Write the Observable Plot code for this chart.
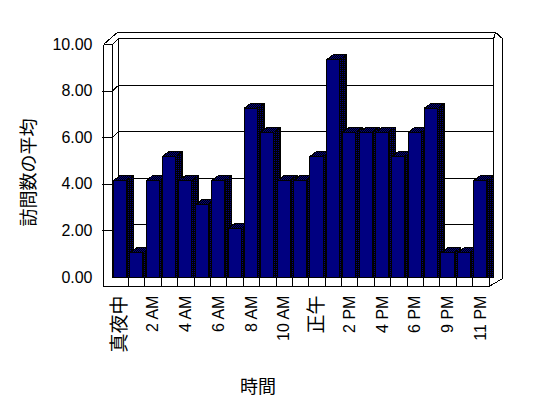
<!DOCTYPE html>
<html><head><meta charset="utf-8">
<script src="https://cdn.jsdelivr.net/npm/d3@7"></script>
<script src="https://cdn.jsdelivr.net/npm/@observablehq/plot@0.6"></script>
<style>
html,body{margin:0;padding:0;background:#fff;}
</style></head><body><div id="chart"></div>
<script>
// ---- data ----
const categories = ["真夜中","1 AM","2 AM","3 AM","4 AM","5 AM","6 AM","7 AM","8 AM","9 AM","10 AM","11 AM","正午","1 PM","2 PM","3 PM","4 PM","5 PM","6 PM","7 PM","9 PM","10 PM","11 PM"];
const visits = [4,1,4,5,4,3,4,2,7,6,4,4,5,9,6,6,6,5,6,7,1,1,4];
const yTicks = [0,2,4,6,8,10];
const yTickLabels = ["0.00","2.00","4.00","6.00","8.00","10.00"];
const yTitle = "訪問数の平均";
const xTitle = "時間";

// ---- 3D geometry (in scale units) ----
const N = categories.length;
const YMAX = 10;
const SLAB = -0.53, FLOOR = -0.39;
const WDX = 0.40, WDY = 0.26, WRX = 0.29;
const ODX = 0.81, ODY = 0.34, TOPY = YMAX + 0.52;
const BDX = 0.42, BDY = 0.215, BAR0 = 0.1, BAR1 = 0.9, K = 1.036;
const isCJK = s => /[\u3000-\u9fff]/.test(s);

const seg = (x1,y1,x2,y2) => ({x1,y1,x2,y2});
const frame = [
  seg(SLAB, FLOOR, SLAB, YMAX),
  seg(SLAB, YMAX, 0, YMAX),
  seg(0, 0, 0, YMAX),
  seg(SLAB, YMAX, SLAB + 0.85, TOPY),
  seg(0, YMAX, WDX, YMAX + WDY),
  seg(SLAB + 0.85, TOPY, N + 0.4, TOPY),
  seg(N + 0.4, TOPY, N + ODX, YMAX + 0.26),
  seg(N + ODX, YMAX + 0.26, N + ODX, FLOOR + ODY),
  seg(N, FLOOR, N + ODX, FLOOR + ODY),
  seg(SLAB, FLOOR, N, FLOOR),
  seg(0, 0, N, 0),
  seg(N, 0, N + WRX, 0.16),
  seg(WDX, WDY, WDX, YMAX + WDY),
  seg(WDX, YMAX + WDY, N + WRX, YMAX + WDY),
  seg(N + WRX, 0.16, N + WRX, YMAX + WDY),
  seg(N + WRX, YMAX + WDY, N + 0.4, TOPY),
  ...d3.range(1, N + 1).map(i => seg(i, FLOOR, i, 0)),
  ...yTicks.filter(v => v < YMAX).map(v => seg(WDX, v + WDY, N + WRX, v + WDY)),
  ...yTicks.filter(v => v < YMAX).map(v => seg(0, v, WDX, v + WDY)),
  ...yTicks.filter(v => v > 0 && v < YMAX).map(v => seg(SLAB - 0.12, v, 0, v))
];

const bars = visits.map((v, i) => ({i, v, h: v * K}));
const sides = bars.flatMap(d => [
  {z: d.i, x: d.i + BAR1, y1: 0, y2: d.h},
  {z: d.i, x: d.i + BAR1 + BDX, y1: 0, y2: d.h + BDY}
]);
const tops = bars.flatMap(d => [
  {z: d.i, y: d.h, x1: d.i + BAR0, x2: d.i + BAR1},
  {z: d.i, y: d.h + BDY, x1: d.i + BAR0 + BDX, x2: d.i + BAR1 + BDX}
]);
const labelIdx = d3.range(0, N, 2);

const FONT = "'Liberation Sans', Arial, 'Noto Sans CJK JP', sans-serif";
const W = 548, H = 398, ML = 111.7, MR = 59.5, MT = 44, MB = 121;

const chart = Plot.plot({
  width: W, height: H,
  marginLeft: ML, marginRight: MR, marginTop: MT, marginBottom: MB,
  x: {domain: [0, N], axis: null},
  y: {domain: [0, YMAX], axis: null},
  style: {fontFamily: FONT, background: "white", color: "black", overflow: "visible"},
  marks: [
    Plot.link(frame, {x1: "x1", y1: "y1", x2: "x2", y2: "y2", stroke: "black", strokeWidth: 1}),
    Plot.areaY(sides, {x: "x", y1: "y1", y2: "y2", z: "z", fill: "url(#sidePat)", stroke: "black", strokeWidth: 1}),
    Plot.areaX(tops, {y: "y", x1: "x1", x2: "x2", z: "z", fill: "url(#topPat)", stroke: "black", strokeWidth: 1}),
    Plot.rect(bars, {x1: d => d.i + BAR0, x2: d => d.i + BAR1, y1: 0, y2: "h", fill: "#000080", stroke: "black", strokeWidth: 1}),
    Plot.text(yTicks, {x: SLAB, y: d => d, text: (d, i) => yTickLabels[i], textAnchor: "end", dx: -11, fontSize: 16, fill: "black"}),
    Plot.text(labelIdx, {x: i => i + 0.5, y: FLOOR, text: i => categories[i], rotate: -90, textAnchor: "end", lineAnchor: "middle", dy: 9, fontSize: i => isCJK(categories[i]) ? 19 : 16, fill: "black"}),
    Plot.text([yTitle], {frameAnchor: "top-left", text: d => d, rotate: -90, textAnchor: "middle", lineAnchor: "middle", dx: 29 - ML, dy: 172 - MT, fontSize: 18, fill: "black"}),
    Plot.text([xTitle], {frameAnchor: "bottom", text: d => d, textAnchor: "middle", lineAnchor: "middle", dx: 257.5 - (ML + (W - ML - MR) / 2), dy: 387 - (H - MB), fontSize: 18, fill: "black"})
  ]
});

const svg = d3.select(chart);
svg.style("shape-rendering", "crispEdges");
const defs = svg.insert("defs", ":first-child");
const p1 = defs.append("pattern").attr("id", "topPat").attr("width", 2).attr("height", 2).attr("patternUnits", "userSpaceOnUse");
p1.append("rect").attr("width", 2).attr("height", 2).attr("fill", "#000080");
p1.append("rect").attr("x", 1).attr("width", 1).attr("height", 1).attr("fill", "#000");
p1.append("rect").attr("y", 1).attr("width", 1).attr("height", 1).attr("fill", "#000");
const p2 = defs.append("pattern").attr("id", "sidePat").attr("width", 2).attr("height", 2).attr("patternUnits", "userSpaceOnUse");
p2.append("rect").attr("width", 2).attr("height", 2).attr("fill", "#000");
p2.append("rect").attr("width", 1).attr("height", 1).attr("fill", "#000080");
document.getElementById("chart").appendChild(chart);
</script></body></html>
